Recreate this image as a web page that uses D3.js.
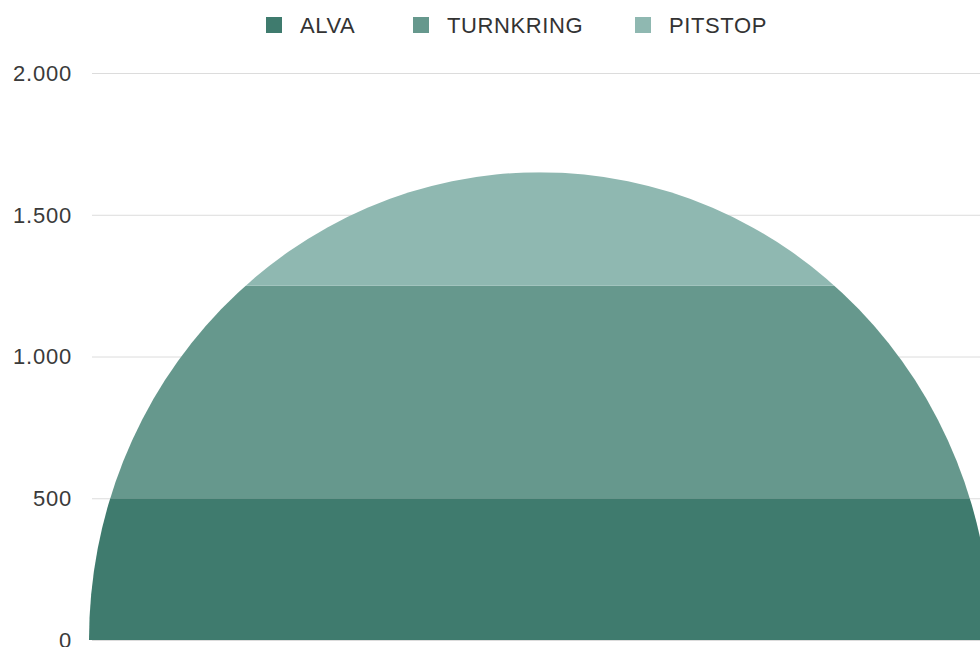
<!DOCTYPE html>
<html>
<head>
<meta charset="utf-8">
<script src="https://cdn.jsdelivr.net/npm/d3@7"></script>
<style>
  body { margin: 0; background: #fff; }
  svg { display: block; }
</style>
</head>
<body>
<div id="chart"></div>
<script>

var series = ["ALVA", "TURNKRING", "PITSTOP"];
var values = [500, 750, 400];
var colors = ["#3f7b6e", "#66988d", "#8fb8b1"];
var yTicks = [0, 500, 1000, 1500, 2000];

var width = 980;
var height = 647;
var margin = {top: 73, right: 0, bottom: 7, left: 91};

var locale = d3.formatLocale({decimal: ",", thousands: ".", grouping: [3], currency: ["", "€"]});
var fmt = locale.format(",d");

var svg = d3.select("#chart").append("svg")
    .attr("width", width)
    .attr("height", height)
    .style("font-family", "'Liberation Sans', Arial, sans-serif");

var y = d3.scaleLinear()
    .domain([0, 2000])
    .range([height - margin.bottom, margin.top]);

// half ellipse spans -1..1
var x = d3.scaleLinear()
    .domain([-1, 1])
    .range([89, 991]);

// gridlines + labels
var grid = svg.append("g");
grid.selectAll("line")
    .data(yTicks)
    .enter().append("line")
    .attr("x1", margin.left + 1)
    .attr("x2", width)
    .attr("y1", function(d) { return y(d) + 0.5; })
    .attr("y2", function(d) { return y(d) + 0.5; })
    .attr("stroke", "#dcdcdc")
    .attr("stroke-width", 1);

grid.selectAll("text")
    .data(yTicks)
    .enter().append("text")
    .attr("x", 72)
    .attr("y", function(d) { return y(d); })
    .attr("dy", "0.36em")
    .attr("text-anchor", "end")
    .attr("font-size", 22)
    .attr("letter-spacing", 0.8)
    .attr("fill", "#3a3a3a")
    .text(function(d) { return fmt(d); });

// stack the bands
var stacked = [];
var acc = 0;
values.forEach(function(v, i) {
    stacked.push({name: series[i], y0: acc, y1: acc + v, color: colors[i]});
    acc += v;
});
var total = acc;

svg.append("clipPath")
    .attr("id", "half")
    .append("ellipse")
    .attr("cx", x(0))
    .attr("cy", y(0))
    .attr("rx", x(1) - x(0))
    .attr("ry", y(0) - y(total));

var bands = svg.append("g").attr("clip-path", "url(#half)");
bands.selectAll("rect")
    .data(stacked)
    .enter().append("rect")
    .attr("x", x(-1))
    .attr("width", x(1) - x(-1))
    .attr("y", function(d) { return y(d.y1); })
    .attr("height", function(d) { return y(d.y0) - y(d.y1); })
    .attr("fill", function(d) { return d.color; });

// legend
var legendX = [266, 413, 635];
var legend = svg.append("g");
var item = legend.selectAll("g")
    .data(series)
    .enter().append("g")
    .attr("transform", function(d, i) { return "translate(" + legendX[i] + ",17)"; });

item.append("rect")
    .attr("width", 16)
    .attr("height", 16)
    .attr("fill", function(d, i) { return colors[i]; });

item.append("text")
    .attr("x", 34)
    .attr("y", 8)
    .attr("dy", "0.36em")
    .attr("font-size", 22)
    .attr("letter-spacing", 0.6)
    .attr("fill", "#333")
    .text(function(d) { return d; });

</script>
</body>
</html>
